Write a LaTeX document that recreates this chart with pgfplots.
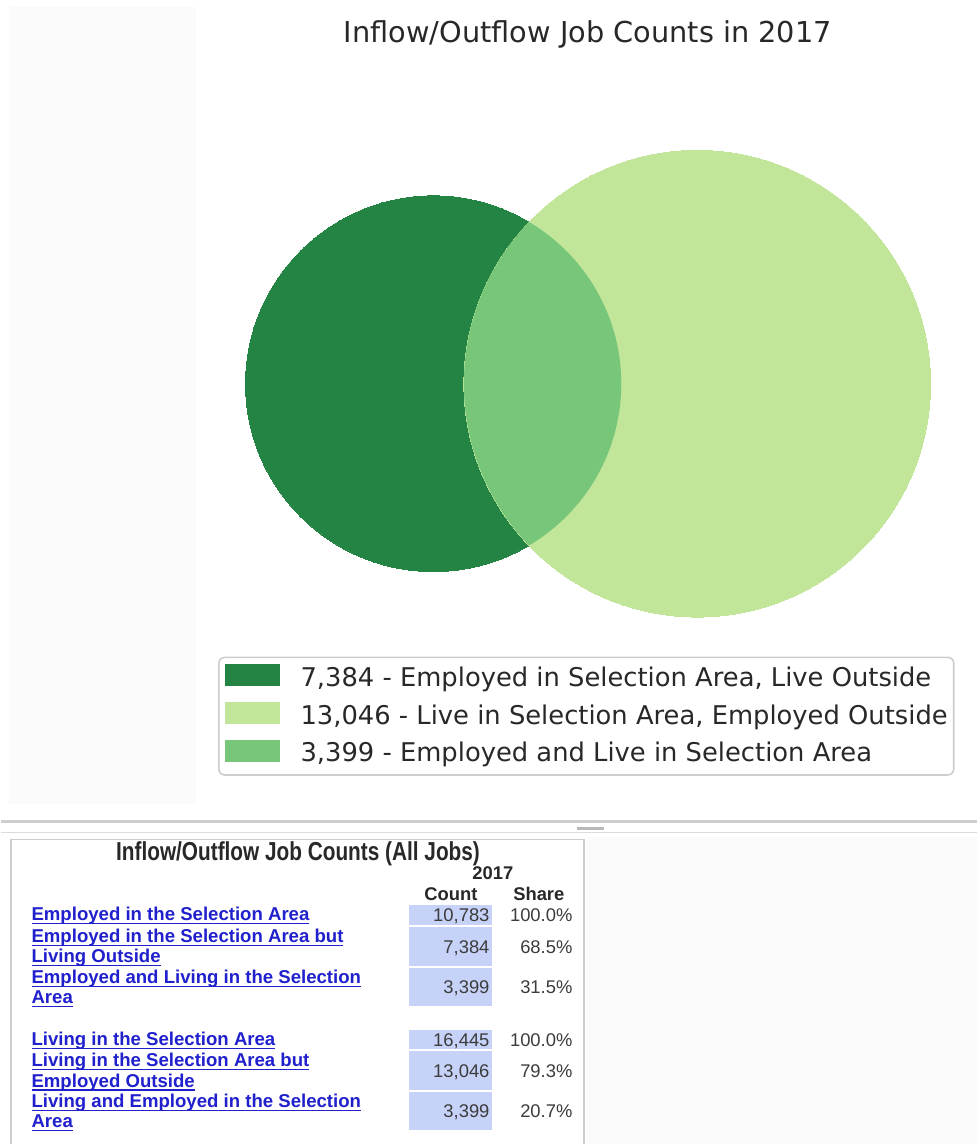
\documentclass[border=0pt]{standalone}
\usepackage{pgfplots}
\pgfplotsset{compat=1.18}
\usepackage{fontspec}
\newfontfamily\dejavu{DejaVu Sans}
\newfontfamily\arial{Liberation Sans}
\newfontfamily\arialn[FakeStretch=0.8]{Liberation Sans}
\definecolor{dkgreen}{RGB}{35,132,67}
\definecolor{ltgreen}{RGB}{194,230,153}
\definecolor{mdgreen}{RGB}{120,198,121}
\definecolor{cellblue}{RGB}{198,210,248}
\definecolor{linkblue}{RGB}{32,32,205}
\definecolor{txtgray}{RGB}{40,40,40}
\definecolor{numgray}{RGB}{60,60,60}
\definecolor{divgray}{RGB}{205,205,205}
\definecolor{panel}{RGB}{251,251,251}
% lens = part of the light circle that lies inside the dark circle
% (dark circle centre is 132pt = 264px to the left, radius 94pt = 188px)
\pgfdeclareplotmark{lens}{%
  \pgfscope
  \pgfpathcircle{\pgfpoint{-132pt}{0pt}}{94pt}%
  \pgfusepath{clip}%
  \pgfpathcircle{\pgfpointorigin}{\pgfplotmarksize}%
  \pgfusepath{fill}%
  \endpgfscope
}
\newcommand\ul[1]{\setbox0=\hbox{#1}\rlap{\rule[-1.8pt]{\wd0}{0.75pt}}\box0}
\begin{document}
\begin{tikzpicture}
\begin{axis}[
  x=0.5pt, y=0.5pt, y dir=reverse,
  xmin=0, xmax=976, ymin=0, ymax=1145,
  hide axis, clip=false, scale only axis,
  legend cell align=left,
  legend image code/.code={\fill[#1, draw=none, sharp corners] (0pt,-3.3pt) rectangle (27.5pt,7.7pt); \path (37.5pt,0pt);},
  legend style={at={(axis cs:217,657)}, anchor=north west,
    draw=divgray, line width=0.8pt, rounded corners=3pt, fill=white,
    inner xsep=3pt, inner ysep=3.5pt, row sep=5pt,
    font=\dejavu\fontsize{12.9pt}{15pt}\selectfont, text=txtgray,
    nodes={inner sep=0pt, text height=9.5pt, text depth=3pt}},
]
% background
\fill[white] (axis cs:0,0) rectangle (axis cs:976,1145);
\fill[panel] (axis cs:8,7) rectangle (axis cs:195,805);
\fill[panel] (axis cs:585,838) rectangle (axis cs:976,1145);

% title
\node[anchor=base, font=\dejavu\fontsize{14.4pt}{17pt}\selectfont, text=txtgray, inner sep=0pt]
  at (axis cs:587,43) {Inflow/Outflow Job Counts in 2017};

% Venn circles (centres in px, radii as mark size in pt)
\addplot[forget plot, only marks, mark=*, mark size=94pt,
  mark options={fill=dkgreen, draw=dkgreen, line width=0pt}] coordinates {(432.5,384)};
\addplot[forget plot, only marks, mark=*, mark size=116.75pt,
  mark options={fill=ltgreen, draw=ltgreen, line width=0pt}] coordinates {(696.5,384)};
\addplot[forget plot, only marks, mark=lens, mark size=116.75pt,
  mark options={fill=mdgreen, draw=none}] coordinates {(696.5,384)};

\addlegendimage{fill=dkgreen}
\addlegendentry{7,384 - Employed in Selection Area, Live Outside}
\addlegendimage{fill=ltgreen}
\addlegendentry{13,046 - Live in Selection Area, Employed Outside}
\addlegendimage{fill=mdgreen}
\addlegendentry{3,399 - Employed and Live in Selection Area}

% divider
\draw[divgray, line width=1.2pt] (axis cs:0,822) -- (axis cs:976,822);
\draw[divgray!70, line width=0.8pt] (axis cs:0,833) -- (axis cs:976,833);
\draw[gray!55, line width=1.5pt] (axis cs:576,829) -- (axis cs:603,829);

% table box
\draw[divgray, line width=0.8pt] (axis cs:10,1145) -- (axis cs:10,840) -- (axis cs:583,840) -- (axis cs:583,1145);
\node[anchor=base, font=\arialn\bfseries\fontsize{13pt}{15pt}\selectfont, text=txtgray, inner sep=0pt]
  at (axis cs:297,861) {Inflow/Outflow Job Counts (All Jobs)};
\node[anchor=base, font=\arial\bfseries\fontsize{9.2pt}{11pt}\selectfont, text=txtgray, inner sep=0pt]
  at (axis cs:492,880) {2017};
\node[anchor=base, font=\arial\bfseries\fontsize{9.2pt}{11pt}\selectfont, text=txtgray, inner sep=0pt]
  at (axis cs:450,901) {Count};
\node[anchor=base, font=\arial\bfseries\fontsize{9.2pt}{11pt}\selectfont, text=txtgray, inner sep=0pt]
  at (axis cs:538,901) {Share};

% count cells
\fill[cellblue] (axis cs:408,906) rectangle (axis cs:491,926);
\fill[cellblue] (axis cs:408,928) rectangle (axis cs:491,967);
\fill[cellblue] (axis cs:408,969) rectangle (axis cs:491,1007);
\fill[cellblue] (axis cs:408,1031) rectangle (axis cs:491,1050);
\fill[cellblue] (axis cs:408,1052) rectangle (axis cs:491,1091);
\fill[cellblue] (axis cs:408,1093) rectangle (axis cs:491,1131);

% link labels
\begin{scope}[every node/.style={anchor=base west, inner sep=0pt, text=linkblue,
   font=\arial\bfseries\fontsize{9.3pt}{11pt}\selectfont}]
\node at (axis cs:30,921.5) {\ul{Employed in the Selection Area}};
\node at (axis cs:30,943.5) {\ul{Employed in the Selection Area but}};
\node at (axis cs:30,963.5) {\ul{Living Outside}};
\node at (axis cs:30,984.5) {\ul{Employed and Living in the Selection}};
\node at (axis cs:30,1004.5) {\ul{Area}};
\node at (axis cs:30,1046.5) {\ul{Living in the Selection Area}};
\node at (axis cs:30,1067.5) {\ul{Living in the Selection Area but}};
\node at (axis cs:30,1088) {\ul{Employed Outside}};
\node at (axis cs:30,1108.5) {\ul{Living and Employed in the Selection}};
\node at (axis cs:30,1128.5) {\ul{Area}};
\end{scope}

% numbers
\begin{scope}[every node/.style={anchor=base east, inner sep=0pt, text=numgray,
   font=\arial\fontsize{9.2pt}{11pt}\selectfont}]
\node at (axis cs:489,922) {10,783};   \node at (axis cs:572,922) {100.0\%};
\node at (axis cs:489,954) {7,384};    \node at (axis cs:572,954) {68.5\%};
\node at (axis cs:489,994.5) {3,399};  \node at (axis cs:572,994.5) {31.5\%};
\node at (axis cs:489,1047) {16,445};  \node at (axis cs:572,1047) {100.0\%};
\node at (axis cs:489,1078) {13,046};  \node at (axis cs:572,1078) {79.3\%};
\node at (axis cs:489,1118.5) {3,399}; \node at (axis cs:572,1118.5) {20.7\%};
\end{scope}
\end{axis}
\end{tikzpicture}
\end{document}
